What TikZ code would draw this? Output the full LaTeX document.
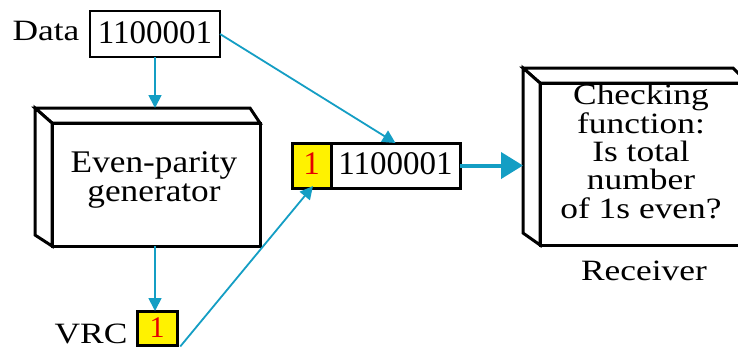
\documentclass[tikz,border=0pt]{standalone}
\usepackage{fontspec}
\setmainfont{Liberation Serif}
\newfontfamily\wa[FakeStretch=1.2]{Liberation Serif}
\newfontfamily\wb[FakeStretch=1.12]{Liberation Serif}
\usetikzlibrary{arrows.meta}
\definecolor{cy}{RGB}{20,158,196}
\definecolor{yel}{RGB}{255,242,0}
\definecolor{rd}{RGB}{230,0,0}
\begin{document}
\begin{tikzpicture}[x=1pt,y=-1pt,
  box/.style={draw, line width=3pt, inner sep=0pt, outer sep=0pt},
  face/.style={draw, line width=3pt, fill=white, line join=miter},
  lab/.style={font=\wa\fontsize{29.5}{30}\selectfont, inner sep=0pt},
  digs/.style={font=\fontsize{33}{33}\selectfont, text height=23pt, text depth=5pt},
  gtxt/.style={font=\wb\fontsize{31.5}{29}\selectfont, align=center, inner sep=0pt},
  rtxt/.style={font=\wa\fontsize{29.5}{28.3}\selectfont, align=center, inner sep=0pt},
  arr/.style={draw=cy, line width=1.8pt, -{Triangle[length=13pt,width=13pt]}},
  bigarr/.style={draw=cy, line width=4pt, -{Triangle[length=22pt,width=26pt]}}]
\useasboundingbox (0,0) rectangle (738,357);
\clip (0,0) rectangle (738,357);
\fill[white] (0,0) rectangle (738,357);

% Data
\node[lab, anchor=base] (datalbl) at (46,40) {Data};
\node[box, digs, line width=2.5pt, minimum width=130pt, minimum height=46pt] (data) at (155,34) {1100001};

% Even-parity generator (3D box)
\node[box, minimum width=208pt, minimum height=123pt] (gen) at (156,184.5) {};
\coordinate (gbl) at (35,108);
\coordinate (gbr) at (250,108);
\coordinate (gbb) at (35,235);
\draw[face] (gbl) -- (gbr) -- (gen.north east) -- (gen.north west) -- cycle;
\draw[face] (gbl) -- (gen.north west) -- (gen.south west) -- (gbb) -- cycle;
\node[gtxt] (gentxt) at (154,179.5) {Even-parity\\generator};

% VRC
\node[lab, anchor=base] (vrclbl) at (91,343) {VRC};
\node[box, fill=yel, text=rd, font=\fontsize{30}{30}\selectfont, minimum width=40pt, minimum height=34pt] (vrc) at (157,328) {1};

% Transmitted data unit
\node[box, digs, fill=yel, text=rd, minimum width=39pt, minimum height=45pt] (bit1) at (311.5,165.5) {1};
\node[box, digs, minimum width=129pt, minimum height=45pt] (bit2) at (395.5,165.5) {1100001};

% Receiver (3D box)
\node[box, minimum width=208pt, minimum height=162pt] (recv) at (644,164) {};
\coordinate (rbl) at (523,68);
\coordinate (rbr) at (733,68);
\coordinate (rbb) at (523,233);
\draw[face] (rbl) -- (rbr) -- (recv.north east) -- (recv.north west) -- cycle;
\draw[face] (rbl) -- (recv.north west) -- (recv.south west) -- (rbb) -- cycle;
\node[rtxt] (recvtxt) at (641,151.5) {Checking\\function:\\Is total\\number\\of 1s even?};
\node[lab, anchor=base] (recvlbl) at (644,280) {Receiver};

% Connectors
\draw[arr] (data.south) -- (data.south |- gbl);
\draw[arr] (gen.south -| data.south) -- (data.south |- vrc.north);
\draw[arr] (data.east) -- (bit2.north);
\draw[arr, shorten <=2pt] ([xshift=2pt,yshift=-3pt]vrc.south east) -- ([xshift=1.5pt,yshift=2pt]bit1.south);
\draw[bigarr] (bit2.east) -- (bit2.east -| rbl);
\end{tikzpicture}
\end{document}
